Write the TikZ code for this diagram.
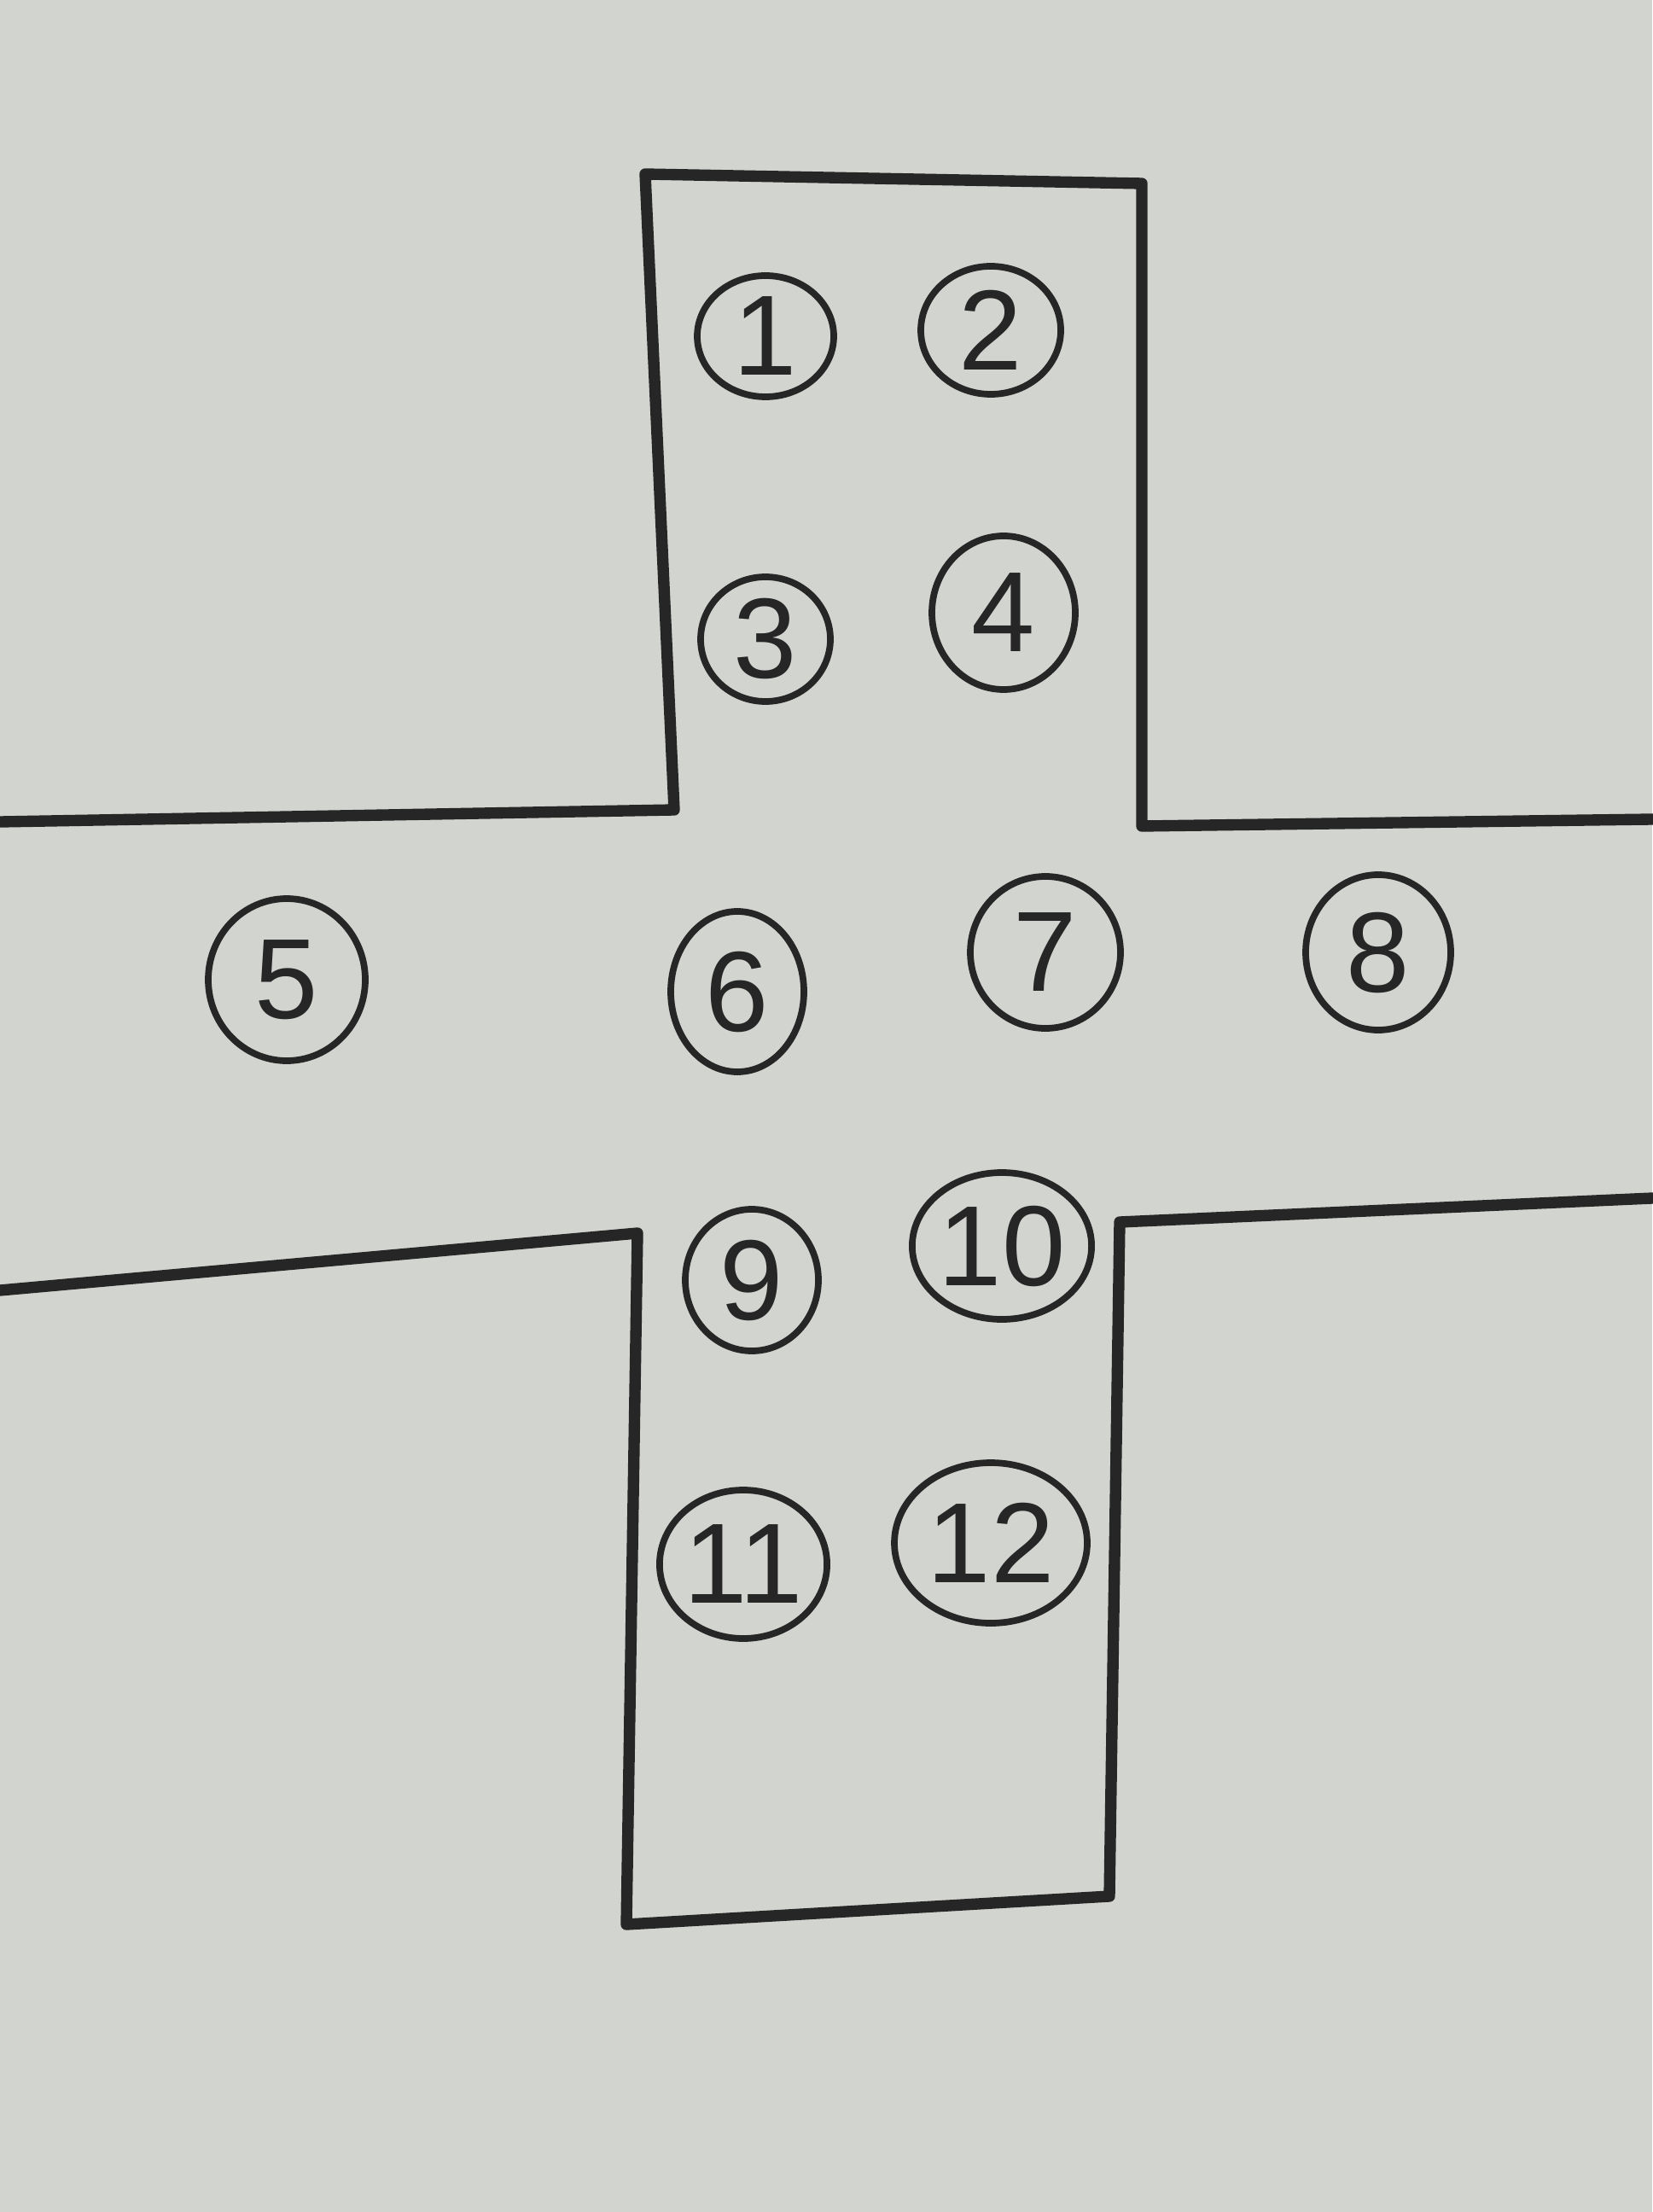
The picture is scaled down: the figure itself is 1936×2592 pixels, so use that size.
\documentclass[tikz,border=0pt]{standalone}
\usepackage{fontspec}
\newfontfamily\handfont{Liberation Sans}
\usetikzlibrary{shapes.geometric}

\begin{document}
\begin{tikzpicture}[x=0.01cm, y=-0.01cm,
  seat/.style={draw=ink, line width=2.2pt, ellipse, inner sep=0pt,
    text=ink, font=\handfont\fontsize{38}{40}\selectfont},
  wall/.style={draw=ink, line width=3.8pt, line join=round, line cap=round}]

\definecolor{paper}{RGB}{210,212,208}
\definecolor{ink}{RGB}{38,38,38}

% ---------------- sheet ----------------
\fill[paper] (0,0) rectangle (1936,2592);
\useasboundingbox (0,0) rectangle (1936,2592);

% ---------------- outline of the cross ----------------
\draw[wall] (0,963) -- (790,949) -- (756,204) -- (1338,215)
  -- (1338,968) -- (1936,960);
\draw[wall] (0,1512) -- (747,1445) -- (734,2255) -- (1300,2222)
  -- (1312,1432) -- (1936,1404);

% ---------------- numbered places ----------------
% name / x / y / half width / half height
\foreach \n/\x/\y/\rx/\ry in {
    1/897/394/80/71,   2/1161/387/82/75,
    3/897/749/76/73,   4/1176/718/84/90,
    5/336/1148/92/95,  6/864/1162/78/94,
    7/1225/1116/88/89, 8/1615/1116/85/91,
    9/881/1500/78/83,  10/1174/1460/97/86,
    11/871/1833/83/87, 12/1161/1808/113/94}
  \node[seat, minimum width={2*\rx*0.01cm}, minimum height={2*\ry*0.01cm}]
    (s\n) at (\x,\y) {\n};

\end{tikzpicture}
\end{document}
